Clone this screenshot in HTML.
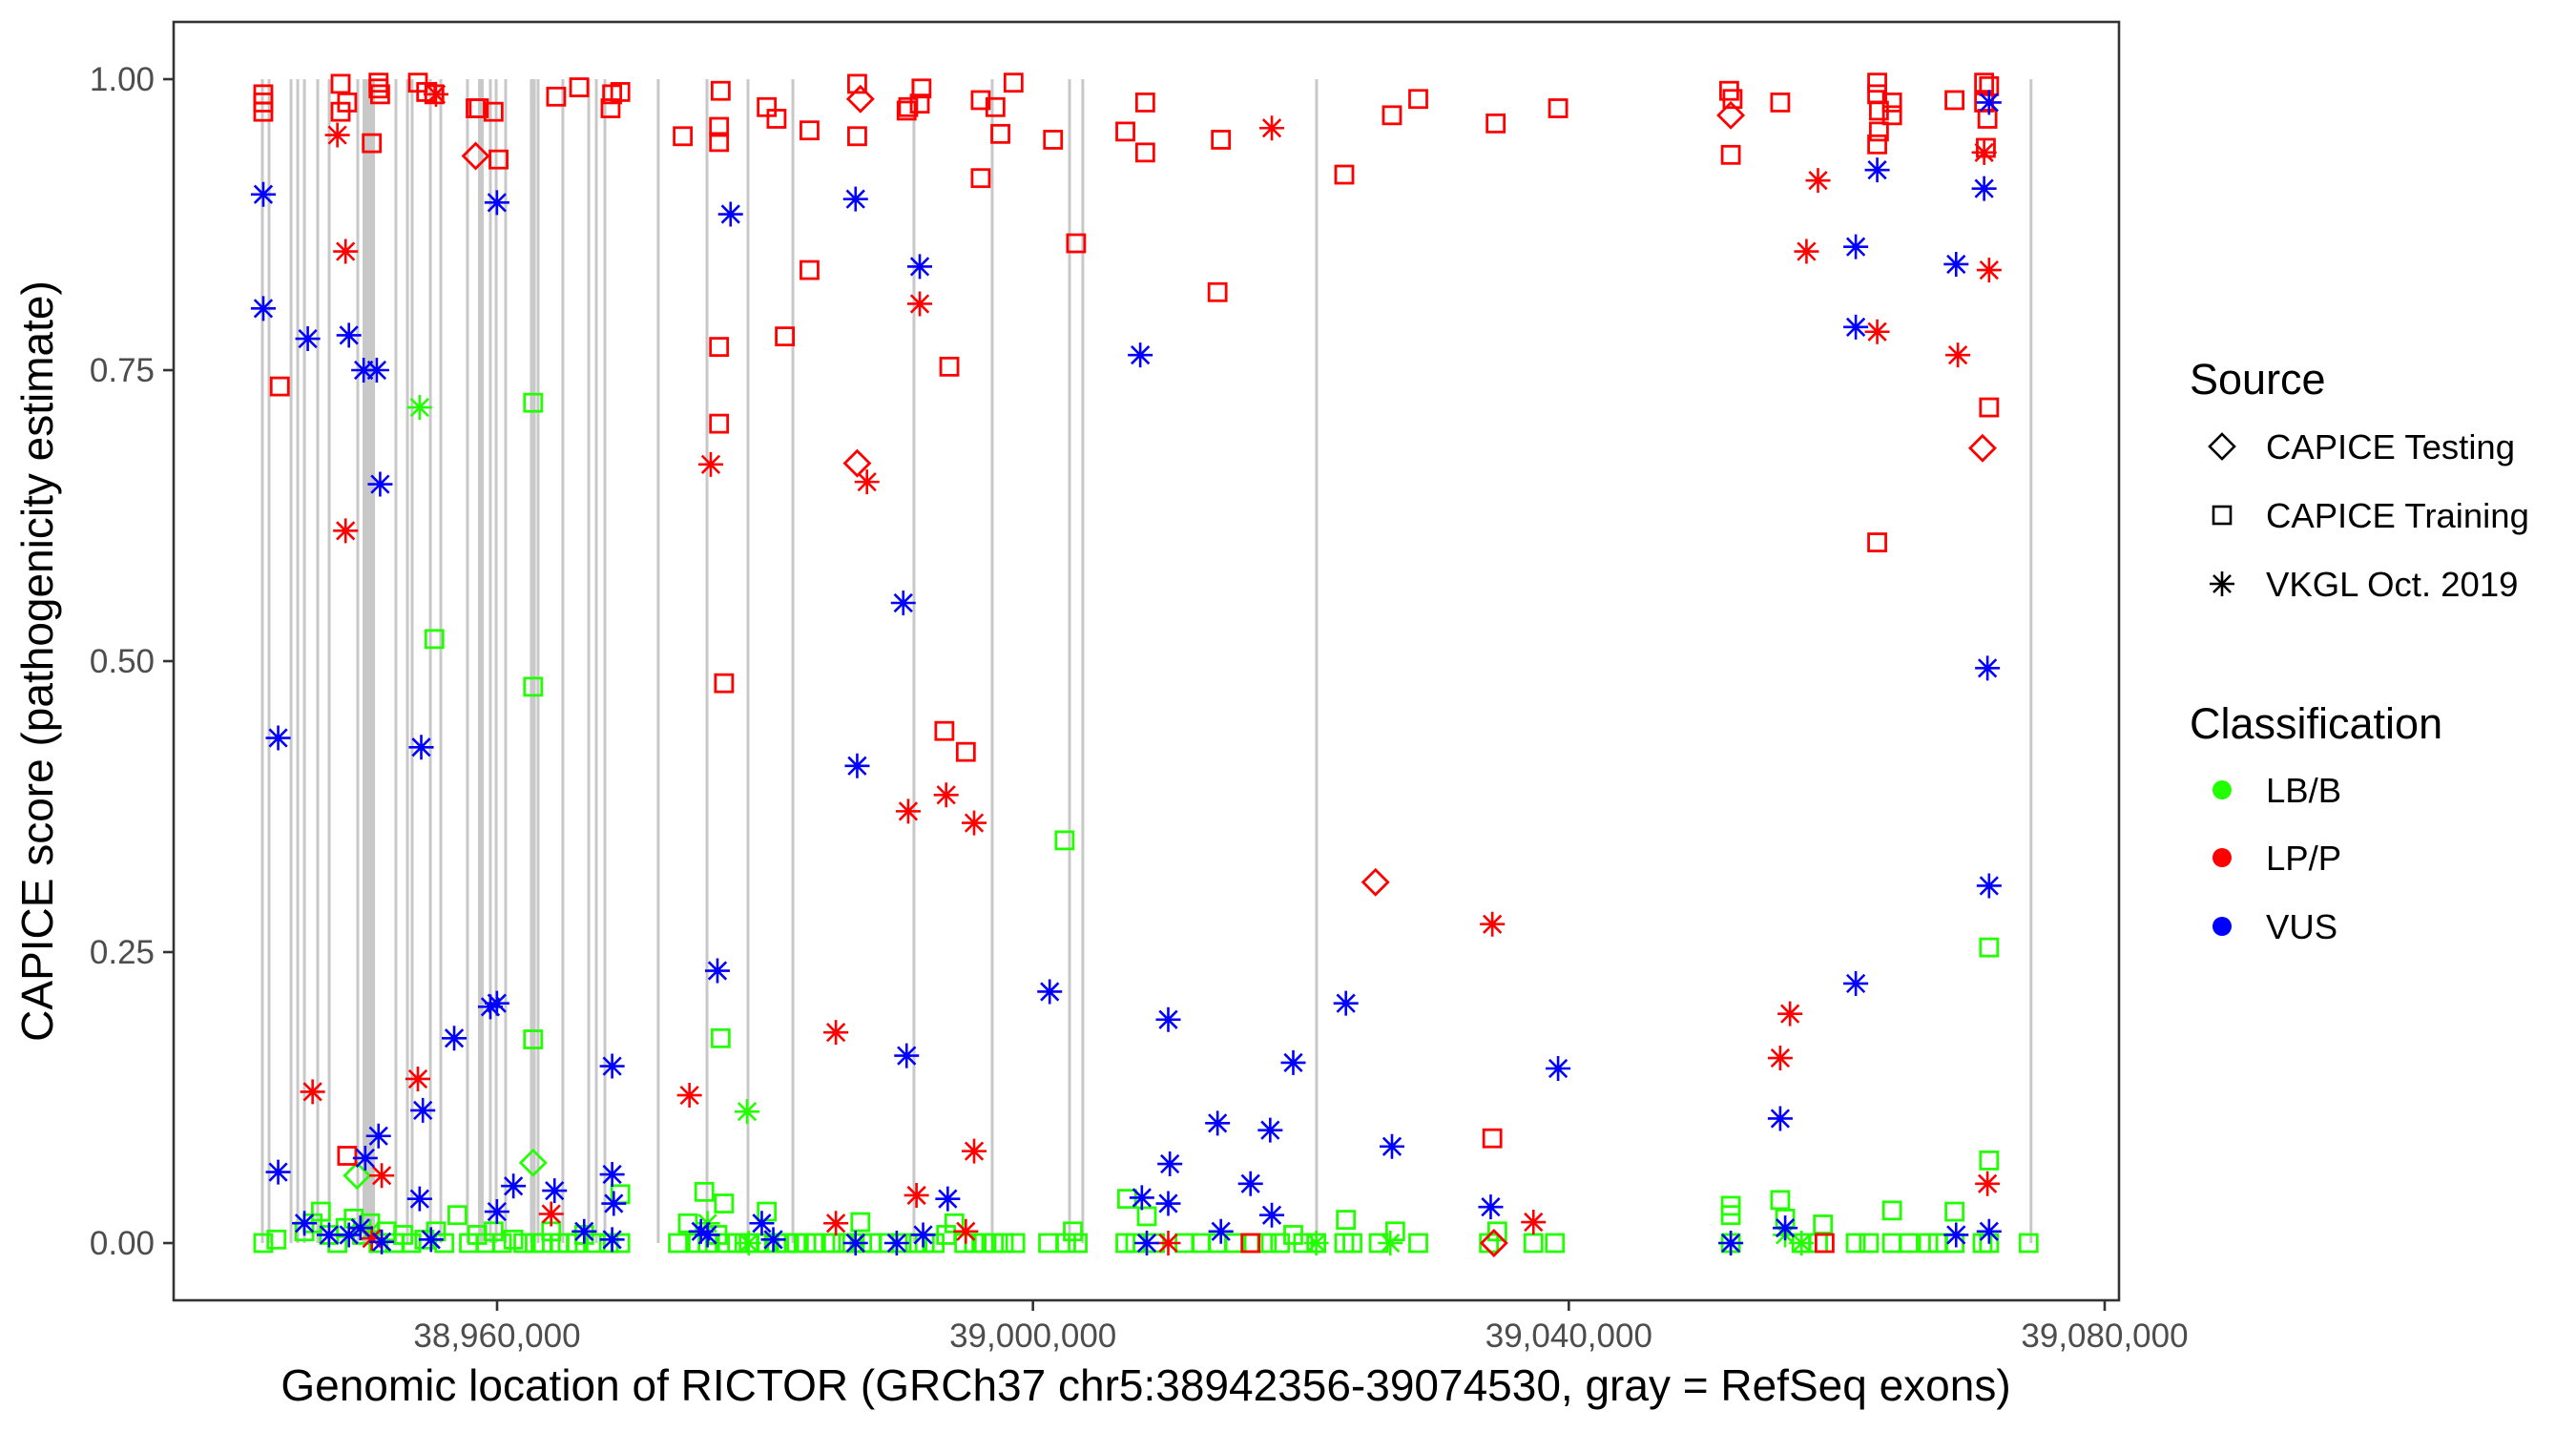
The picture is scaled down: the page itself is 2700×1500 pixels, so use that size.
<!DOCTYPE html>
<html><head><meta charset="utf-8"><title>CAPICE RICTOR</title>
<style>
html,body{margin:0;padding:0;background:#fff;}
svg{display:block;font-family:"Liberation Sans",Arial,sans-serif;}
</style></head>
<body>
<svg id="chart" width="2700" height="1500" viewBox="0 0 2700 1500" xmlns="http://www.w3.org/2000/svg">
  <rect x="0" y="0" width="2700" height="1500" fill="#fff"/>
  <g id="exons"></g>
  <g id="points"></g>
  <rect x="182" y="23" width="2039" height="1340" fill="none" stroke="#333" stroke-width="2.6"/>
  <g id="axes"></g>
  <text x="1201" y="1468" font-size="46" text-anchor="middle" fill="#000">Genomic location of RICTOR (GRCh37 chr5:38942356-39074530, gray = RefSeq exons)</text>
  <text transform="translate(55,693) rotate(-90)" font-size="46" text-anchor="middle" fill="#000">CAPICE score (pathogenicity estimate)</text>
  <g>
    <text x="2295" y="413" font-size="45" fill="#000">Source</text>
    <path d="M2329 455 L2342 468 L2329 481 L2316 468 Z" fill="none" stroke="#000" stroke-width="2.6"/>
    <text x="2375" y="481" font-size="36.5" fill="#000">CAPICE Testing</text>
    <rect x="2320" y="531" width="18" height="18" fill="none" stroke="#000" stroke-width="2.6"/>
    <text x="2375" y="553" font-size="36.5" fill="#000">CAPICE Training</text>
    <g stroke="#000" stroke-width="2.6">
      <line x1="2329" y1="599" x2="2329" y2="625"/><line x1="2316" y1="612" x2="2342" y2="612"/>
      <line x1="2320" y1="603" x2="2338" y2="621"/><line x1="2320" y1="621" x2="2338" y2="603"/>
    </g>
    <text x="2375" y="625" font-size="36.5" fill="#000">VKGL Oct. 2019</text>
  </g>
  <g>
    <text x="2295" y="774" font-size="45" fill="#000">Classification</text>
    <circle cx="2329" cy="828" r="10" fill="#22ff00"/>
    <text x="2375" y="841" font-size="36.5" fill="#000">LB/B</text>
    <circle cx="2329" cy="899" r="10" fill="#ff0000"/>
    <text x="2375" y="912" font-size="36.5" fill="#000">LP/P</text>
    <circle cx="2329" cy="971" r="10" fill="#0000ff"/>
    <text x="2375" y="984" font-size="36.5" fill="#000">VUS</text>
  </g>
</svg>
<script>
// ---- axis data ----
const xTickValues = [38960000, 39000000, 39040000, 39080000];
const xTickLabels = ["38,960,000", "39,000,000", "39,040,000", "39,080,000"];
const yTickValues = [0, 0.25, 0.5, 0.75, 1];
const yTickLabels = ["0.00", "0.25", "0.50", "0.75", "1.00"];

// ---- exons (kb) ----
const exonStartKb = [38942.48,38942.98,38944.62,38945.12,38945.62,38946.61,38947.47,38949.60,38949.96,38952.45,38953.31,38953.66,38955.02,38955.80,38957.79,38958.58,38959.50,38959.93,38960.64,38962.56,38962.78,38963.06,38964.91,38966.84,38967.41,38968.05,38972.03,38975.67,38978.73,38982.08,38991.12,38996.96,39002.73,39003.72,39021.17,39074.50];
const exonEndKb   = [38942.48,38942.98,38944.62,38945.12,38945.62,38946.61,38947.47,38949.60,38950.89,38952.45,38953.31,38953.66,38955.02,38955.80,38957.79,38959.00,38959.50,38959.93,38960.64,38962.56,38962.78,38963.06,38964.91,38966.84,38967.41,38968.05,38972.03,38975.67,38978.73,38982.08,38991.12,38996.96,39002.73,39003.72,39021.17,39074.50];

// ---- LB/B CAPICE Training, low band (green squares) ----
const trainBPosKb = [38942.55,38943.53,38945.62,38946.23,38946.85,38947.46,38948.08,38948.69,38949.30,38949.92,38950.53,38951.15,38951.76,38952.37,38952.99,38953.60,38954.58,38955.44,38956.06,38957.90,38958.52,38959.13,38959.74,38960.36,38961.22,38961.96,38962.81,38963.43,38964.04,38964.66,38965.27,38965.88,38966.50,38967.36,38968.34,38969.20,38969.20,38973.50,38974.24,38974.98,38975.47,38975.71,38976.45,38976.94,38977.18,38977.92,38978.78,38979.39,38980.13,38980.13,38980.86,38981.60,38982.34,38983.08,38983.81,38984.92,38985.78,38986.51,38987.12,38987.25,38987.99,38989.22,38990.20,38991.19,38991.92,38992.66,38993.52,38994.13,38994.87,38995.61,38996.34,38997.08,38997.82,38998.68,39001.13,39002.48,39002.98,39003.34,39006.90,39007.03,39007.64,39008.50,39009.11,39011.32,39012.55,39013.78,39015.01,39016.48,39017.46,39018.45,39019.43,39020.17,39021.15,39023.24,39023.36,39023.85,39025.81,39027.04,39028.76,39034.04,39034.66,39037.36,39038.96,39052.09,39052.09,39052.09,39055.78,39056.15,39057.37,39058.60,39058.97,39061.42,39062.40,39064.13,39064.13,39065.36,39066.83,39067.57,39068.79,39068.79,39070.88,39071.37,39074.32];
const trainBScore = [0,0.003,0.010,0.017,0.027,0.007,0,0.013,0.021,0.007,0.017,0,0.010,0,0.007,0,0.003,0.010,0,0,0.007,0,0.010,0,0.003,0,0,0,0.010,0,0,0,0.007,0,0,0.042,0,0,0.017,0,0.044,0,0.007,0.034,0,0,0,0,0.027,0,0,0,0,0,0,0,0,0,0.018,0,0,0,0,0,0,0,0.007,0.017,0,0,0,0,0,0,0,0,0.010,0,0,0.038,0,0.023,0,0,0,0,0,0,0,0,0.007,0,0,0,0.020,0,0,0.010,0,0,0.010,0,0,0,0.032,0.024,0.037,0.021,0,0,0.016,0,0,0.028,0,0,0,0,0.027,0,0,0,0];

// ---- LB/B CAPICE Training, elevated (green squares) ----
const trainBMidPosKb = [38955.32,38962.69,38962.69,38962.69,38976.69,39002.36,39071.37,39071.37,38957.04];
const trainBMidScore = [0.519,0.722,0.478,0.175,0.176,0.346,0.254,0.071,0.024];

// ---- LB/B CAPICE Testing (green diamonds) ----
const testBPosKb = [38962.69,38949.55];
const testBScore = [0.069,0.058];

// ---- LB/B VKGL (green asterisks) ----
const vkglBPosKb = [38954.22,38978.66,38950.53,38975.71,38978.78,39021.15,39026.68,39056.15,39057.37,39052.09];
const vkglBScore = [0.718,0.113,0.010,0.017,0,0,0,0.007,0,0];

// ---- LP/P CAPICE Training (red squares) ----
const trainPPosKb = [38942.55,38942.55,38942.55,38948.32,38948.32,38948.81,38950.65,38951.15,38951.15,38951.27,38954.09,38954.71,38955.32,38958.40,38958.64,38959.74,38960.11,38964.41,38966.13,38968.59,38969.20,38968.47,38973.86,38976.69,38976.57,38976.57,38980.13,38980.86,38983.32,38986.88,38986.88,38990.57,38990.69,38991.68,38991.55,38996.10,38997.20,38998.55,38997.57,38996.10,39001.50,39006.90,39008.38,39008.38,39014.03,39023.24,39026.80,39028.76,39034.54,39039.20,39051.97,39052.22,39052.09,39055.78,39063.02,39063.02,39063.15,39063.15,39063.02,39064.13,39064.13,39068.79,39071.00,39071.37,39071.00,39071.25,39071.13,39063.02,39071.37,38943.78,38983.32,38981.48,38976.57,38976.57,38976.94,39003.22,39013.78,38993.39,38994.99,38993.76,39034.29,38948.81,39059.09,39016.24];
const trainPScore = [0.987,0.980,0.972,0.996,0.972,0.980,0.945,0.997,0.992,0.987,0.997,0.989,0.987,0.975,0.975,0.972,0.931,0.985,0.993,0.987,0.989,0.975,0.951,0.990,0.959,0.946,0.976,0.966,0.956,0.996,0.951,0.973,0.976,0.992,0.979,0.982,0.976,0.997,0.953,0.915,0.948,0.955,0.980,0.937,0.948,0.918,0.969,0.983,0.962,0.975,0.990,0.983,0.935,0.980,0.997,0.987,0.973,0.955,0.944,0.980,0.969,0.982,0.997,0.994,0.980,0.966,0.941,0.602,0.718,0.736,0.836,0.779,0.770,0.704,0.481,0.859,0.817,0.440,0.422,0.753,0.090,0.075,0,0];

// ---- LP/P CAPICE Testing (red diamonds) ----
const testPPosKb = [38958.40,38987.12,38986.88,39025.57,39052.09,39070.88,39034.41];
const testPScore = [0.934,0.983,0.670,0.310,0.969,0.683,0];

// ---- LP/P VKGL (red asterisks) ----
const vkglPPosKb = [38948.08,38948.69,38948.69,38946.23,38951.39,38954.09,38955.44,38950.65,38964.04,38974.36,38975.95,38987.61,38991.55,38990.69,38993.52,38995.61,38995.61,38991.31,38985.29,38985.29,39017.83,39058.60,39057.74,39063.02,39069.04,39056.51,39055.78,39071.00,39071.37,39071.25,39034.29,39037.36,39010.10,38994.99];
const vkglPScore = [0.952,0.852,0.612,0.130,0.058,0.141,0.987,0.004,0.025,0.127,0.669,0.654,0.807,0.371,0.385,0.361,0.079,0.041,0.181,0.017,0.958,0.913,0.852,0.783,0.763,0.197,0.159,0.937,0.836,0.051,0.274,0.018,0,0.010];

// ---- VUS VKGL (blue asterisks) ----
const vkglUPosKb = [38942.55,38942.55,38945.87,38948.94,38950.04,38951.02,38951.27,38943.66,38943.66,38950.16,38951.15,38954.34,38954.46,38956.80,38959.50,38959.99,38959.99,38954.22,38949.80,38961.22,38964.29,38968.59,38968.59,38968.71,38966.50,38959.99,38977.43,38976.45,38986.76,38986.88,38990.32,38991.55,38990.57,38993.64,38986.76,39001.25,39008.01,39010.10,39010.22,39008.13,39013.78,39017.71,39016.24,39019.43,39023.36,39026.80,39010.10,39014.03,39017.83,39039.20,39034.17,39061.42,39061.42,39063.02,39061.42,39055.78,39068.91,39071.37,39071.00,39071.25,39071.37,39068.91,39071.37,39052.09,39056.15,38979.76,38975.22,38991.80,38945.62,38947.46,38948.94,38951.39,38955.07,38968.59,38975.71,38980.62,38989.83,39008.50];
const vkglUScore = [0.901,0.803,0.777,0.780,0.750,0.750,0.652,0.434,0.061,0.073,0.092,0.426,0.114,0.176,0.203,0.206,0.894,0.038,0.013,0.049,0.045,0.152,0.059,0.034,0.010,0.027,0.884,0.234,0.897,0.410,0.550,0.839,0.161,0.038,0,0.216,0.763,0.192,0.068,0.039,0.103,0.097,0.051,0.155,0.206,0.083,0.034,0.010,0.024,0.150,0.031,0.856,0.787,0.922,0.223,0.107,0.841,0.980,0.906,0.494,0.307,0.007,0.010,0,0.013,0.017,0.010,0.007,0.017,0.007,0.007,0.001,0.003,0.003,0.007,0.003,0,0];

// ---- scales ----
const X_REF_BP = 38960000, X_REF_PX = 521, X_PX_PER_BP = (2206 - 521) / 120000;
const Y_ZERO_PX = 1303, Y_PX_PER_UNIT = 1220;
function xScale(bp) { return X_REF_PX + (bp - X_REF_BP) * X_PX_PER_BP; }
function yScale(s) { return Y_ZERO_PX - s * Y_PX_PER_UNIT; }

const NS = "http://www.w3.org/2000/svg";
function mk(tag, attrs) {
  const el = document.createElementNS(NS, tag);
  for (const k in attrs) el.setAttribute(k, attrs[k]);
  return el;
}

// exon lines
const exG = document.getElementById("exons");
for (let i = 0; i < exonStartKb.length; i++) {
  const x1 = xScale(exonStartKb[i] * 1000), x2 = xScale(exonEndKb[i] * 1000);
  const w = Math.max(3, x2 - x1);
  const r = mk("rect", {x: (x1 + x2) / 2 - w / 2, y: yScale(1), width: w, height: yScale(0) - yScale(1), fill: "#c8c8c8"});
  
  
  exG.appendChild(r);
}

// axes
const axG = document.getElementById("axes");
for (let i = 0; i < xTickValues.length; i++) {
  const x = xScale(xTickValues[i]);
  const t = mk("line", {x1: x, y1: 1363, x2: x, y2: 1374, stroke: "#333", "stroke-width": 2.6});
  
  
  axG.appendChild(t);
  const lb = mk("text", {x: x, y: 1412, "font-size": 35, "text-anchor": "middle", fill: "#4d4d4d"});
  lb.textContent = xTickLabels[i];
  
  
  axG.appendChild(lb);
}
for (let i = 0; i < yTickValues.length; i++) {
  const y = yScale(yTickValues[i]);
  const t = mk("line", {x1: 171, y1: y, x2: 182, y2: y, stroke: "#333", "stroke-width": 2.6});
  
  
  axG.appendChild(t);
  const lb = mk("text", {x: 162, y: y + 12, "font-size": 35, "text-anchor": "end", fill: "#4d4d4d"});
  lb.textContent = yTickLabels[i];
  
  
  axG.appendChild(lb);
}

// points
const ptG = document.getElementById("points");
function drawSeries(posKb, scores, shape, color, name) {
  const n = Math.min(posKb.length, scores.length);
  for (let i = 0; i < n; i++) {
    const cx = xScale(posKb[i] * 1000), cy = yScale(scores[i]);
    let el;
    if (shape === "square") {
      el = mk("rect", {x: cx - 9, y: cy - 9, width: 18, height: 18, fill: "none", stroke: color, "stroke-width": 2.8});
    } else if (shape === "diamond") {
      el = mk("path", {d: `M${cx} ${cy-13} L${cx+13} ${cy} L${cx} ${cy+13} L${cx-13} ${cy} Z`, fill: "none", stroke: color, "stroke-width": 2.8});
    } else {
      el = mk("path", {d: `M${cx} ${cy-13} V${cy+13} M${cx-13} ${cy} H${cx+13} M${cx-9.2} ${cy-9.2} L${cx+9.2} ${cy+9.2} M${cx-9.2} ${cy+9.2} L${cx+9.2} ${cy-9.2}`, fill: "none", stroke: color, "stroke-width": 2.6});
    }
    
    
    ptG.appendChild(el);
  }
}
const GREEN = "#22ff00", RED = "#ff0000", BLUE = "#0000ff";
drawSeries(trainBPosKb, trainBScore, "square", GREEN, "point-training-lbb");
drawSeries(trainBMidPosKb, trainBMidScore, "square", GREEN, "point-training-lbb");
drawSeries(testBPosKb, testBScore, "diamond", GREEN, "point-testing-lbb");
drawSeries(vkglBPosKb, vkglBScore, "asterisk", GREEN, "point-vkgl-lbb");
drawSeries(trainPPosKb, trainPScore, "square", RED, "point-training-lpp");
drawSeries(testPPosKb, testPScore, "diamond", RED, "point-testing-lpp");
drawSeries(vkglPPosKb, vkglPScore, "asterisk", RED, "point-vkgl-lpp");
drawSeries(vkglUPosKb, vkglUScore, "asterisk", BLUE, "point-vkgl-vus");
</script>
</body></html>
